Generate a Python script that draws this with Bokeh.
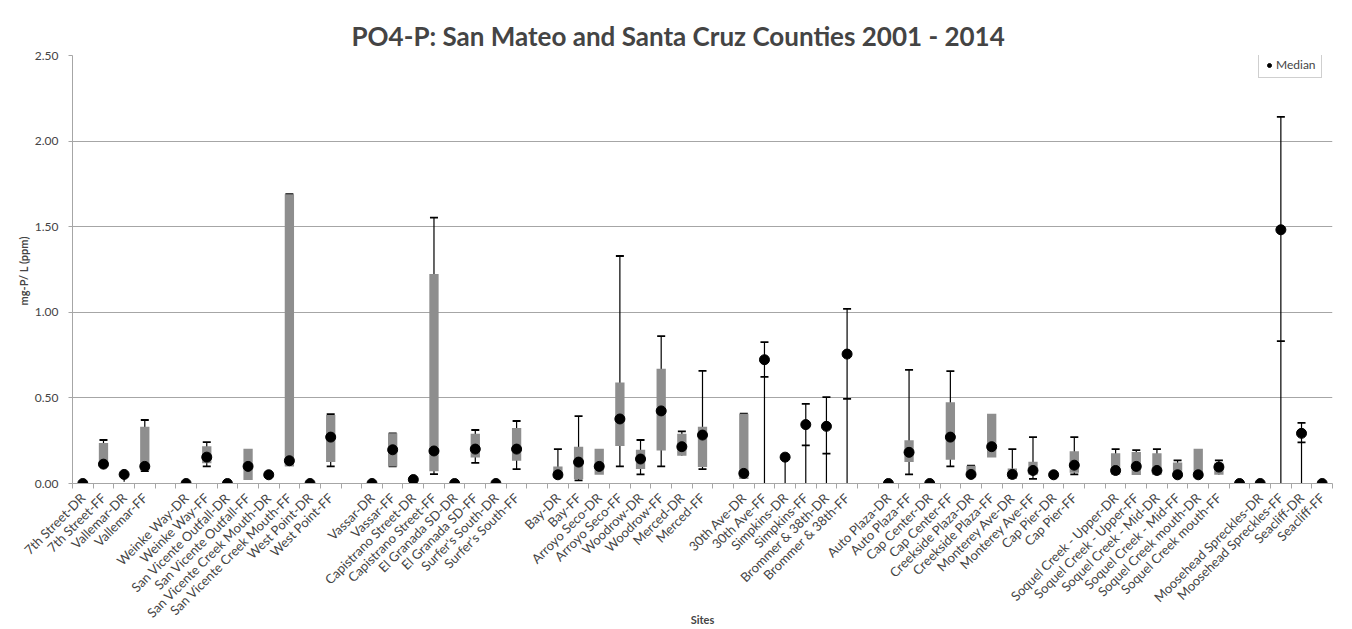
import math
import numpy as np
from bokeh.plotting import figure
from bokeh.models import FixedTicker, NumeralTickFormatter, Range1d, Legend, LegendItem
from bokeh.embed import file_html
from bokeh.resources import INLINE

nan = float("nan")

sites = [
    "7th Street-DR", "7th Street-FF", "Vallemar-DR", "Vallemar-FF", "",
    "Weinke Way-DR", "Weinke Way-FF", "San Vicente Outfall-DR", "San Vicente Outfall-FF",
    "San Vicente Creek Mouth-DR", "San Vicente Creek Mouth-FF", "West Point-DR", "West Point-FF", "",
    "Vassar-DR", "Vassar-FF", "Capistrano Street-DR", "Capistrano Street-FF",
    "El Granada SD-DR", "El Granada SD-FF", "Surfer's South-DR", "Surfer's South-FF", "",
    "Bay-DR", "Bay-FF", "Arroyo Seco-DR", "Arroyo Seco-FF", "Woodrow-DR", "Woodrow-FF",
    "Merced-DR", "Merced-FF", "",
    "30th Ave-DR", "30th Ave-FF", "Simpkins-DR", "Simpkins-FF", "Brommer & 38th-DR", "Brommer & 38th-FF", "",
    "Auto Plaza-DR", "Auto Plaza-FF", "Cap Center-DR", "Cap Center-FF", "Creekside Plaza-DR",
    "Creekside Plaza-FF", "Monterey Ave-DR", "Monterey Ave-FF", "Cap Pier-DR", "Cap Pier-FF", "",
    "Soquel Creek - Upper-DR", "Soquel Creek - Upper-FF", "Soquel Creek - Mid-DR", "Soquel Creek - Mid-FF",
    "Soquel Creek mouth-DR", "Soquel Creek mouth-FF", " ",
    "Moosehead Spreckles-DR", "Moosehead Spreckles-FF", "Seacliff-DR", "Seacliff-FF",
]

median = [0.00, 0.113, 0.053, 0.10, nan,
          0.00, 0.154, 0.00, 0.10, 0.051, 0.133, 0.00, 0.271, nan,
          0.00, 0.197, 0.023, 0.19, 0.00, 0.201, 0.00, 0.201, nan,
          0.051, 0.125, 0.10, 0.377, 0.143, 0.424, 0.215, 0.283, nan,
          0.059, 0.723, 0.154, 0.344, 0.334, 0.756, nan,
          0.00, 0.182, 0.00, 0.271, 0.053, 0.215, 0.053, 0.076, 0.051, 0.107, nan,
          0.076, 0.10, 0.076, 0.051, 0.051, 0.096, 0.00,
          0.00, 1.482, 0.293, 0.00]

box_low = [nan, 0.10, nan, 0.076, nan,
           nan, 0.119, nan, 0.021, 0.035, 0.10, nan, 0.125, nan,
           nan, 0.10, nan, 0.072, nan, 0.152, nan, 0.133, nan,
           0.03, 0.025, 0.051, 0.219, 0.084, 0.193, 0.162, 0.096, nan,
           0.027, nan, nan, nan, nan, nan, nan,
           nan, 0.125, nan, 0.139, 0.037, 0.152, 0.027, 0.051, nan, 0.0625, nan,
           0.051, 0.049, 0.049, 0.037, 0.037, 0.051, nan,
           nan, nan, nan, nan]

box_high = [nan, 0.236, nan, 0.332, nan,
            nan, 0.217, nan, 0.203, 0.058, 1.69, nan, 0.40, nan,
            nan, 0.293, nan, 1.223, nan, 0.291, nan, 0.324, nan,
            0.10, 0.215, 0.203, 0.59, 0.197, 0.67, 0.291, 0.332, nan,
            0.408, nan, nan, nan, nan, nan, nan,
            nan, 0.252, nan, 0.475, 0.104, 0.408, 0.088, 0.127, nan, 0.189, nan,
            0.176, 0.184, 0.176, 0.123, 0.203, 0.121, nan,
            nan, nan, nan, nan]

whisker_low = [nan, 0.10, 0.01, 0.072, nan,
               nan, 0.10, nan, nan, nan, nan, nan, 0.10, nan,
               nan, 0.10, nan, 0.055, nan, 0.121, nan, 0.084, nan,
               0.03, 0.018, nan, 0.10, 0.053, 0.10, 0.162, 0.084, nan,
               nan, 0.0, 0.0, 0.0, 0.0, 0.0, nan,
               nan, 0.053, nan, 0.10, nan, nan, 0.027, 0.027, nan, 0.053, nan,
               0.051, 0.049, 0.049, 0.037, nan, 0.051, nan,
               nan, 0.0, 0.0, nan]

whisker_high = [nan, 0.254, 0.053, 0.371, nan,
                nan, 0.242, nan, nan, nan, nan, nan, 0.405, nan,
                nan, 0.293, nan, 1.553, nan, 0.3125, nan, 0.365, nan,
                0.201, 0.393, nan, 1.329, 0.254, 0.861, 0.305, 0.658, nan,
                nan, 0.826, 0.154, 0.465, 0.504, 1.02, nan,
                nan, 0.664, nan, 0.656, nan, nan, 0.201, 0.271, nan, 0.271, nan,
                0.201, 0.195, 0.201, 0.135, nan, 0.135, nan,
                nan, 2.141, 0.354, nan]

cap_low = [nan, nan, nan, 0.072, nan,
           nan, 0.10, nan, nan, nan, nan, nan, 0.10, nan,
           nan, 0.10, nan, 0.055, nan, 0.121, nan, 0.084, nan,
           nan, 0.018, nan, 0.10, 0.053, 0.10, nan, 0.084, nan,
           nan, 0.623, nan, 0.223, 0.174, 0.494, nan,
           nan, 0.053, nan, 0.10, nan, nan, nan, 0.027, nan, 0.053, nan,
           nan, nan, nan, nan, nan, nan, nan,
           nan, 0.832, 0.240, nan]

cap_high = [nan, 0.254, nan, 0.371, nan,
            nan, 0.242, nan, nan, nan, 1.69, nan, 0.405, nan,
            nan, 0.293, nan, 1.553, nan, 0.3125, nan, 0.365, nan,
            0.201, 0.393, nan, 1.329, 0.254, 0.861, 0.305, 0.658, nan,
            0.408, 0.826, nan, 0.465, 0.504, 1.02, nan,
            nan, 0.664, nan, 0.656, 0.104, nan, 0.201, 0.271, nan, 0.271, nan,
            0.201, 0.195, 0.201, 0.135, nan, 0.135, nan,
            nan, 2.141, 0.354, nan]

y_ticks = [0.0, 0.5, 1.0, 1.5, 2.0, 2.5]

n = len(sites)
xs = [i + 0.5 for i in range(n)]

FONT = "Lato"

p = figure(width=1344, height=629, output_backend="svg", toolbar_location=None,
           x_range=Range1d(0, n), y_range=Range1d(0, 2.5),
           min_border_left=72, min_border_right=12, min_border_top=55, min_border_bottom=138)
p.styles = {"outline": "1px solid #c8c8c8", "outline-offset": "-2px"}

p.title.text = "PO4-P:  San Mateo and Santa Cruz Counties  2001 - 2014"
p.title.text_font = FONT
p.title.text_font_size = "26px"
p.title.text_font_style = "bold"
p.title.align = "left"
p.title.offset = 279
p.title.standoff = 7

p.outline_line_color = None
p.xgrid.grid_line_color = None
p.ygrid.grid_line_color = "#a6a6a6"
p.ygrid.ticker = FixedTicker(ticks=y_ticks)

# whiskers
p.segment(x0=xs, y0=whisker_low, x1=xs, y1=whisker_high, line_color="black", line_width=1.2)
p.scatter(x=xs, y=cap_low, marker="dash", size=8, line_color="black", line_width=1.8)
p.scatter(x=xs, y=cap_high, marker="dash", size=8, line_color="black", line_width=1.8)
# boxes
p.vbar(x=xs, bottom=box_low, top=box_high, width=0.45, fill_color="#8e8e8e", line_color=None)
# medians
med = p.scatter(x=xs, y=median, marker="circle", size=10, fill_color="black", line_color="black")

legend = Legend(items=[LegendItem(label="Median", renderers=[med])], location=(1186, 405),
                label_text_font=FONT, label_text_font_size="12px", glyph_width=10, glyph_height=14,
                label_standoff=2, padding=5, margin=0, border_line_color="#a0a0a0",
                label_height=14)
p.add_layout(legend)

# y axis
yax = p.yaxis[0]
yax.ticker = FixedTicker(ticks=y_ticks)
yax.formatter = NumeralTickFormatter(format="0.00")
yax.axis_label = "mg-P/ L  (ppm)"
yax.axis_label_text_font = FONT
yax.axis_label_text_font_size = "11px"
yax.axis_label_text_font_style = "bold"
yax.major_label_text_font = FONT
yax.major_label_text_font_size = "12px"
yax.axis_line_color = "#a6a6a6"
yax.major_tick_line_color = "#a6a6a6"
yax.major_tick_in = 0
yax.major_tick_out = 4
yax.minor_tick_line_color = None
yax.major_label_standoff = 10
yax.axis_label_standoff = 2

# x axis
xax = p.xaxis[0]
xax.ticker = FixedTicker(ticks=xs, minor_ticks=list(range(n + 1)))
xax.major_label_overrides = {x: s for x, s in zip(xs, sites)}
xax.major_label_orientation = math.pi / 4
xax.major_label_text_font = FONT
xax.major_label_text_font_size = "13px"
xax.major_tick_line_color = None
xax.minor_tick_line_color = "#a6a6a6"
xax.minor_tick_in = 0
xax.minor_tick_out = 5
xax.axis_line_color = "#a6a6a6"
xax.major_label_standoff = 6
xax.axis_label = "Sites"
xax.axis_label_text_font = FONT
xax.axis_label_text_font_size = "11px"
xax.axis_label_text_font_style = "bold"
xax.axis_label_standoff = -16

open("out.html", "w").write(file_html(p, INLINE))
